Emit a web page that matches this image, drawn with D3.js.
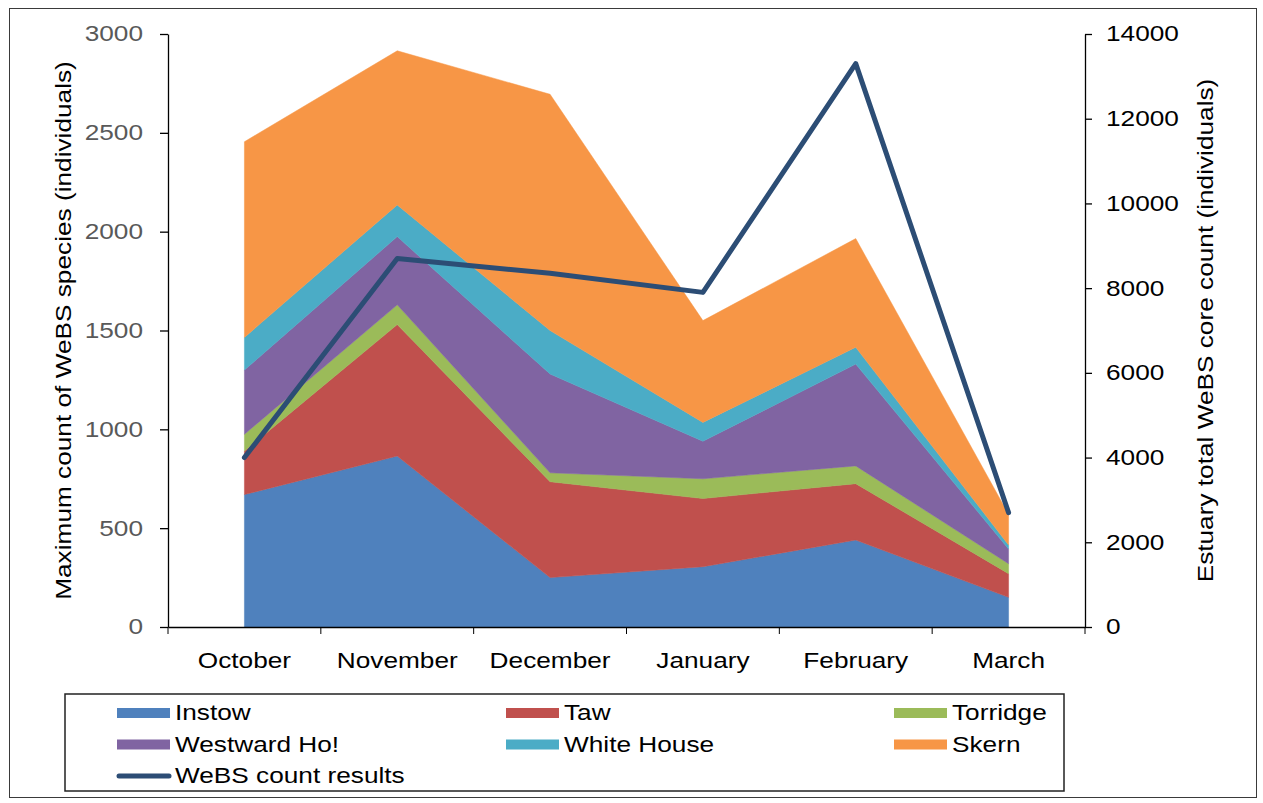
<!DOCTYPE html>
<html>
<head>
<meta charset="utf-8">
<script src="https://cdnjs.cloudflare.com/ajax/libs/d3/7.8.5/d3.min.js"></script>
<style>
  body { margin: 0; background: #fff; }
  text { font-family: 'Liberation Sans', Arial, sans-serif; }
</style>
</head>
<body>
<svg width="1263" height="803"></svg>
<script>
const months = ['October', 'November', 'December', 'January', 'February', 'March']
const sites = ['Instow', 'Taw', 'Torridge', 'Westward Ho!', 'White House', 'Skern']

// max counts per site (individuals)
const instow = [670, 865, 250, 305, 440, 150]
const taw = [220, 665, 485, 345, 285, 120]
const torridge = [85, 100, 45, 100, 90, 50]
const westwardHo = [325, 345, 500, 190, 515, 75]
const whiteHouse = [165, 160, 220, 95, 85, 20]
const skern = [990, 780, 1195, 515, 550, 155]

// estuary total core count (right axis)
const webs = [4000, 8700, 8350, 7900, 13300, 2700]
const websLabel = 'WeBS count results'

const leftTicks = [0, 500, 1000, 1500, 2000, 2500, 3000]
const rightTicks = [0, 2000, 4000, 6000, 8000, 10000, 12000, 14000]

const colors = ['#4f81bd', '#c0504d', '#9bbb59', '#8064a2', '#4bacc6', '#f79646']
const lineColor = '#2c4d75'

const margin = { top: 34, right: 178, bottom: 176, left: 168 }
const width = 1263
const height = 803
const fontSize = 21.5
const sx = 1.22 // glyphs in the reference are a bit wider than Arial

const svg = d3.select('svg')

// outer frame
svg.append('rect')
  .attr('x', 9.5).attr('y', 8.5)
  .attr('width', 1247).attr('height', 789)
  .attr('fill', 'none')
  .attr('stroke', '#3a3a3a')
  .attr('stroke-width', 1)

const table = months.map((m, i) => ({
  month: m,
  Instow: instow[i],
  Taw: taw[i],
  Torridge: torridge[i],
  'Westward Ho!': westwardHo[i],
  'White House': whiteHouse[i],
  Skern: skern[i]
}))

const stacked = d3.stack().keys(sites)(table)

// scales
const xScale = d3.scaleBand()
  .domain(months)
  .range([margin.left, width - margin.right])
  .padding(0)

const xMid = d => xScale(d) + xScale.bandwidth() / 2

const yScale = d3.scaleLinear()
  .domain([0, 3000])
  .range([height - margin.bottom, margin.top])

const yRight = d3.scaleLinear()
  .domain([0, 14000])
  .range([height - margin.bottom, margin.top])

// stacked areas
const area = d3.area()
  .x(d => xMid(d.data.month))
  .y0(d => yScale(d[0]))
  .y1(d => yScale(d[1]))

svg.append('g')
  .selectAll('path')
  .data(stacked)
  .enter().append('path')
  .attr('d', area)
  .attr('fill', (d, i) => colors[i])
  .attr('stroke', (d, i) => colors[i])
  .attr('stroke-width', 0.5)

// WeBS line
const line = d3.line()
  .x((d, i) => xMid(months[i]))
  .y(d => yRight(d))

svg.append('path')
  .datum(webs)
  .attr('d', line)
  .attr('fill', 'none')
  .attr('stroke', lineColor)
  .attr('stroke-width', 5)
  .attr('stroke-linejoin', 'round')
  .attr('stroke-linecap', 'round')

// axes
const yAxis = d3.axisLeft(yScale)
  .tickValues(leftTicks)
  .tickFormat(d3.format('d'))
  .tickSize(8)
  .tickSizeOuter(0)

const gLeft = svg.append('g')
  .attr('transform', `translate(${margin.left},0)`)
  .call(yAxis)

gLeft.selectAll('text')
  .attr('x', -25 / sx)
  .attr('transform', `scale(${sx},1)`)
  .attr('fill', '#595959')
  .attr('font-size', fontSize)

const yAxisRight = d3.axisRight(yRight)
  .tickValues(rightTicks)
  .tickFormat(d3.format('d'))
  .tickSize(7)
  .tickSizeOuter(0)

const gRight = svg.append('g')
  .attr('transform', `translate(${width - margin.right},0)`)
  .call(yAxisRight)

gRight.selectAll('text')
  .attr('x', 21 / sx)
  .attr('transform', `scale(${sx},1)`)
  .attr('fill', '#000')
  .attr('font-size', fontSize)

const xAxis = d3.axisBottom(xScale)
  .tickSize(0)
  .tickSizeOuter(0)

const gBottom = svg.append('g')
  .attr('transform', `translate(0,${height - margin.bottom})`)
  .call(xAxis)

gBottom.selectAll('text')
  .attr('y', 41)
  .attr('dy', null)
  .attr('x', 0)
  .attr('transform', `scale(${sx},1)`)
  .attr('fill', '#000')
  .attr('font-size', fontSize)

// category ticks sit between the months
const boundaries = months.map(m => xScale(m)).concat([xScale(months[months.length - 1]) + xScale.bandwidth()])

gBottom.selectAll('line.cat')
  .data(boundaries)
  .enter().append('line')
  .attr('class', 'cat')
  .attr('x1', d => d).attr('x2', d => d)
  .attr('y1', 0).attr('y2', 7)
  .attr('stroke', '#000')

svg.selectAll('.domain')
  .attr('stroke', '#000')
  .attr('stroke-width', 1.3)
svg.selectAll('.tick line')
  .attr('stroke', '#000')
  .attr('stroke-width', 1.3)

// axis titles
svg.append('text')
  .attr('transform', `translate(71,${(yScale(0) + yScale(3000)) / 2}) rotate(-90) scale(${sx},1)`)
  .attr('text-anchor', 'middle')
  .attr('font-size', fontSize)
  .attr('fill', '#000')
  .text('Maximum count of WeBS species (individuals)')

svg.append('text')
  .attr('transform', `translate(1213,${(yScale(0) + yScale(3000)) / 2}) rotate(-90) scale(${sx},1)`)
  .attr('text-anchor', 'middle')
  .attr('font-size', fontSize)
  .attr('fill', '#000')
  .text('Estuary total WeBS core count (individuals)')

// legend
const legend = svg.append('g')

legend.append('rect')
  .attr('x', 65).attr('y', 694)
  .attr('width', 999).attr('height', 97)
  .attr('fill', '#fff')
  .attr('stroke', '#222')
  .attr('stroke-width', 1.5)

const colX = [117, 506, 894]
const rowY = [720, 751.5, 783]

const items = legend.selectAll('g.item')
  .data(sites)
  .enter().append('g')
  .attr('class', 'item')
  .attr('transform', (d, i) => `translate(${colX[i % 3]},${rowY[Math.floor(i / 3)]})`)

items.append('rect')
  .attr('x', 0).attr('y', -12)
  .attr('width', 53).attr('height', 10)
  .attr('fill', (d, i) => colors[i])

items.append('text')
  .attr('transform', `translate(58,0) scale(${sx},1)`)
  .attr('font-size', fontSize)
  .attr('fill', '#000')
  .text(d => d)

const lineItem = legend.append('g')
  .attr('transform', `translate(${colX[0]},${rowY[2]})`)

lineItem.append('line')
  .attr('x1', 2).attr('x2', 52)
  .attr('y1', -7).attr('y2', -7)
  .attr('stroke', lineColor)
  .attr('stroke-width', 5)
  .attr('stroke-linecap', 'round')

lineItem.append('text')
  .attr('transform', `translate(58,0) scale(${sx},1)`)
  .attr('font-size', fontSize)
  .attr('fill', '#000')
  .text(websLabel)
</script>
</body>
</html>
